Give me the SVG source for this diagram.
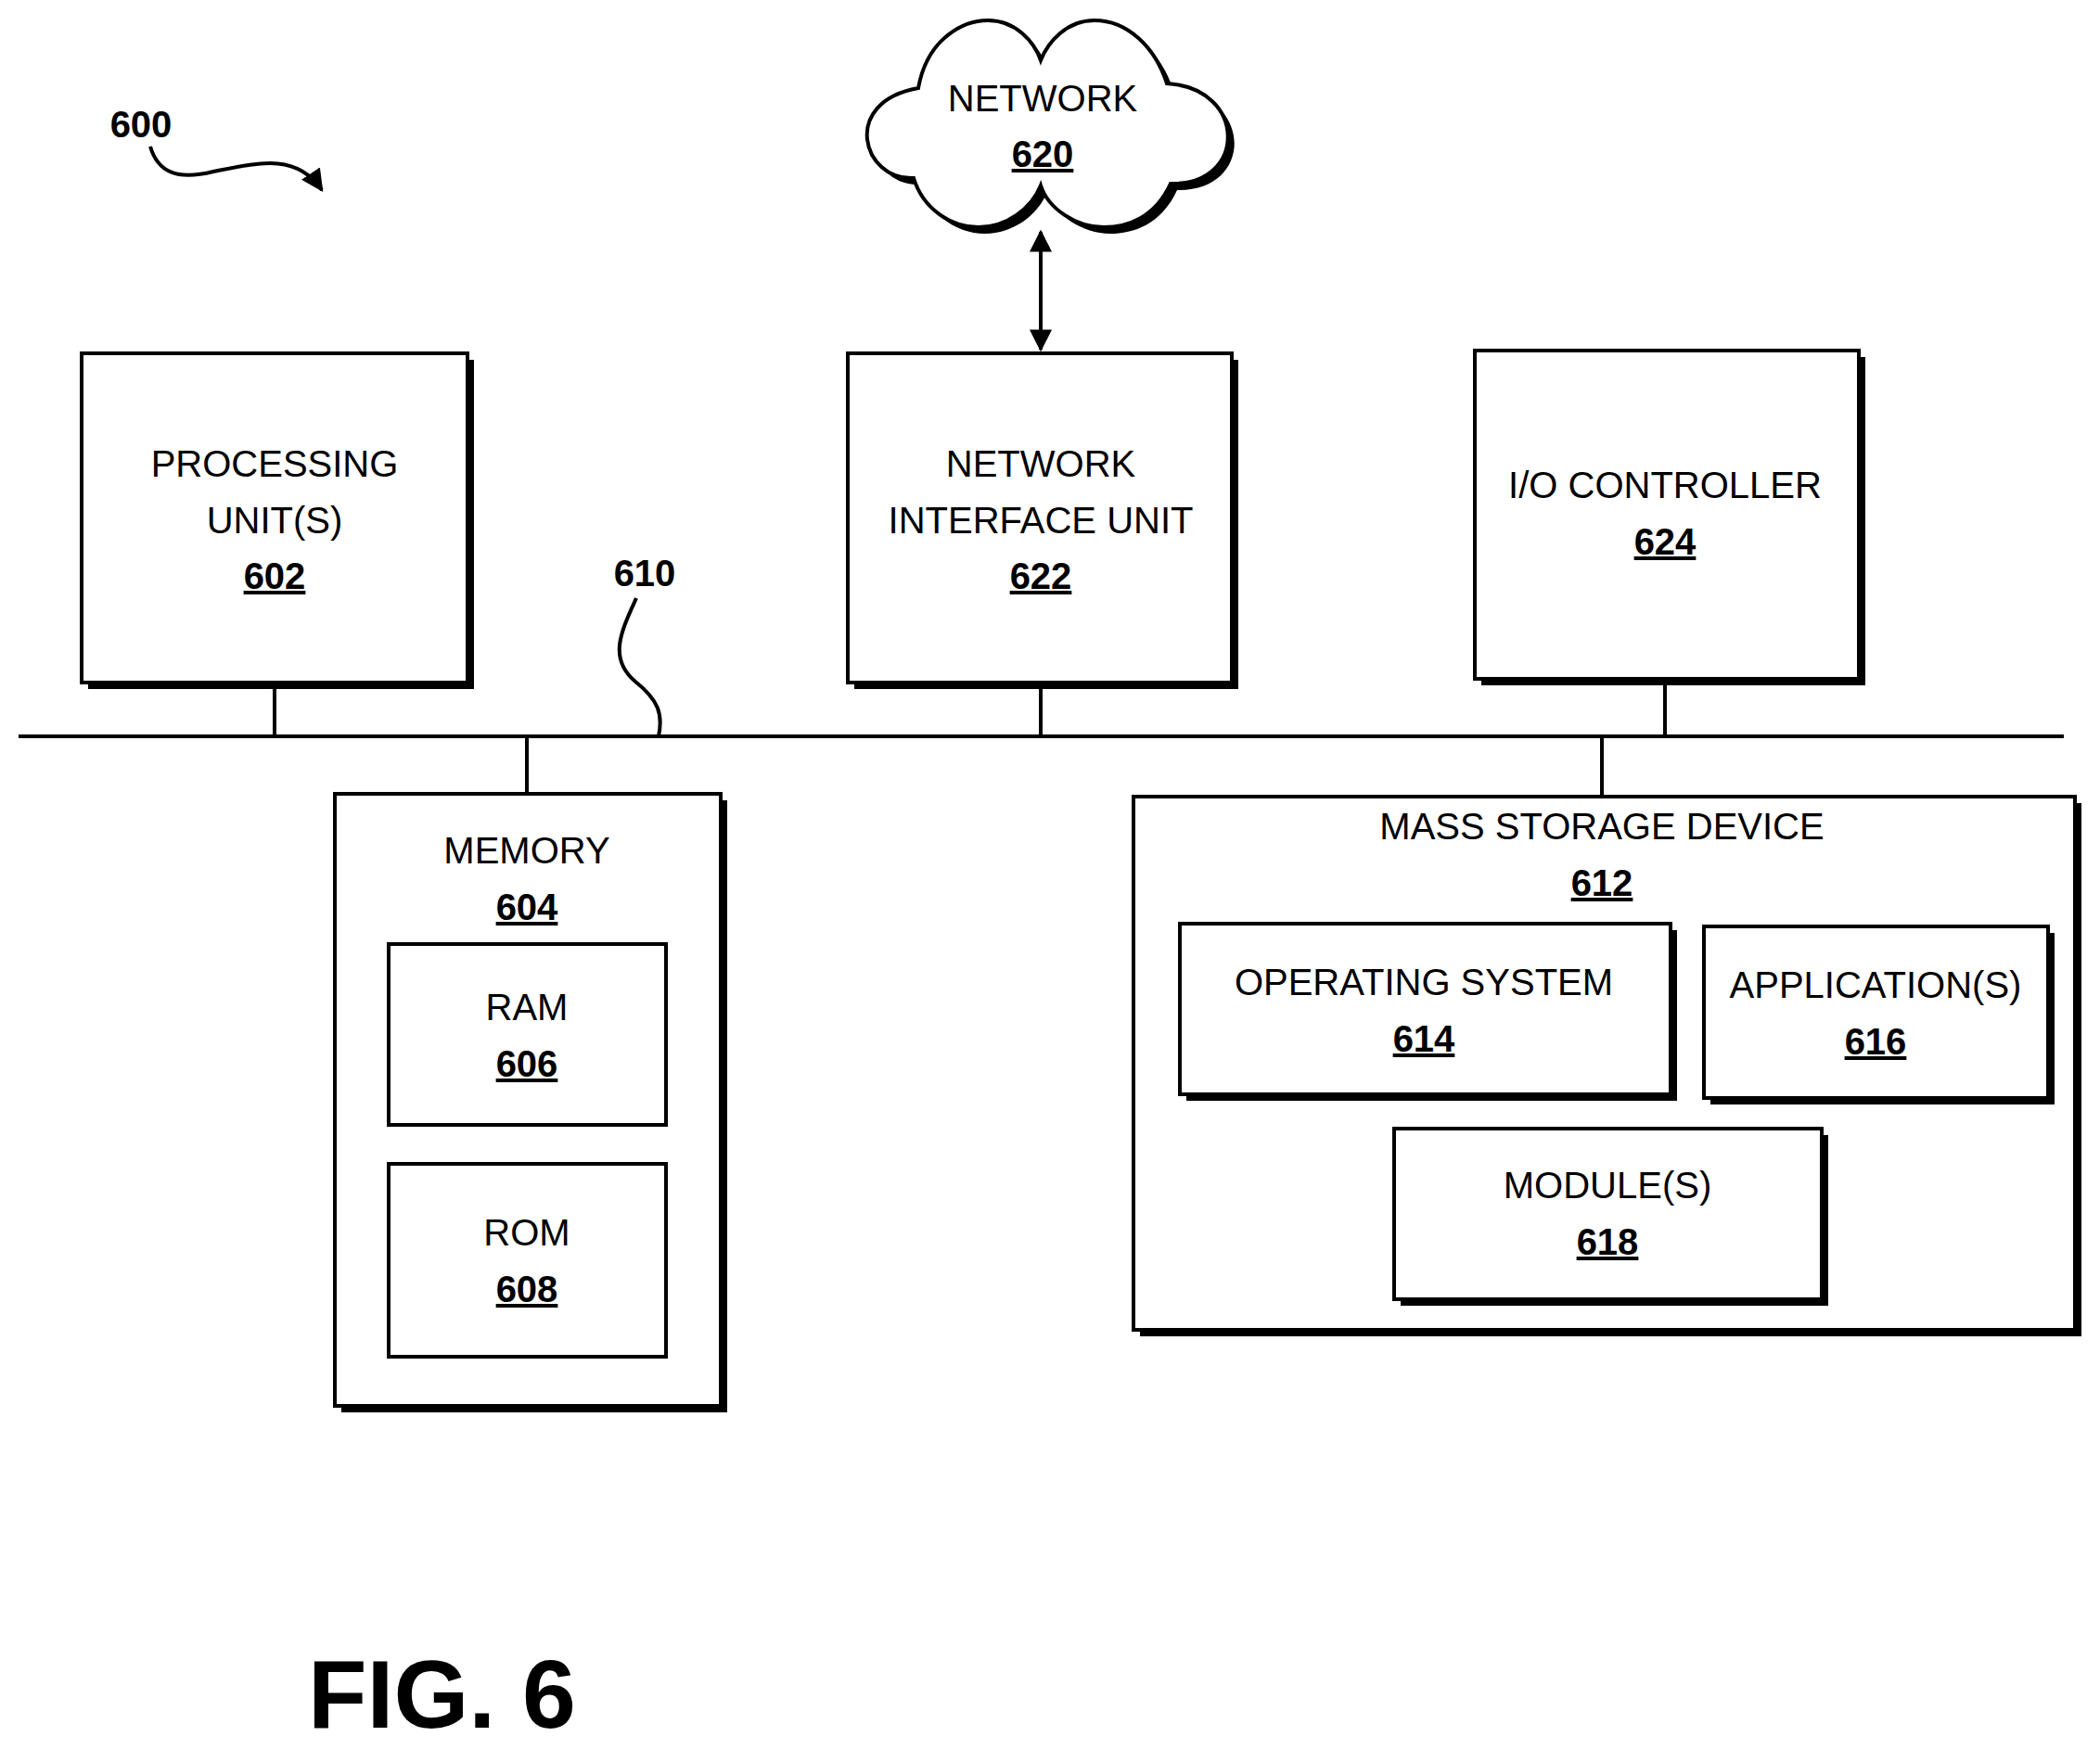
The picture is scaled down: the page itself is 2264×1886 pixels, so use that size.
<svg xmlns="http://www.w3.org/2000/svg" width="2264" height="1886" viewBox="0 0 2264 1886">
<style>
.box{fill:#fff;stroke:#000;stroke-width:4}
.sh{fill:#000}
.t{font-family:"Liberation Sans",sans-serif;font-size:40px;text-anchor:middle;fill:#000}
.n{font-family:"Liberation Sans",sans-serif;font-size:40px;font-weight:bold;text-anchor:middle;text-decoration:underline;fill:#000}
.ln{fill:none;stroke:#000;stroke-width:4}
</style>
<defs>
<marker id="ah" viewBox="0 0 10 10" refX="9" refY="5" markerWidth="6" markerHeight="6" orient="auto-start-reverse"><path d="M0,0 L10,5 L0,10 z" fill="#000"/></marker>
<path id="cloud" d="M985,192 C930,195 905,110 990,95 C1000,40 1040,22 1065,22 C1095,22 1115,45 1122,65 C1130,45 1150,22 1180,22 C1215,22 1245,50 1258,90 C1345,95 1345,200 1262,198 C1245,235 1215,245 1190,245 C1160,245 1130,225 1122,200 C1112,225 1085,245 1055,245 C1025,245 995,225 985,192 Z"/>
</defs>
<g id="label600">
<text x="152" y="148" font-family="Liberation Sans,sans-serif" font-size="40" font-weight="bold" text-anchor="middle">600</text>
<path class="ln" d="M162,158 C170,185 190,195 230,185 C280,175 320,165 347,205" marker-end="url(#ah)"/>
</g>
<g id="connectors">
<line class="ln" x1="20" y1="794" x2="2225" y2="794"/>
<line class="ln" x1="296" y1="736" x2="296" y2="794"/>
<line class="ln" x1="1122" y1="736" x2="1122" y2="794"/>
<line class="ln" x1="1795" y1="732" x2="1795" y2="794"/>
<line class="ln" x1="568" y1="794" x2="568" y2="856"/>
<line class="ln" x1="1727" y1="794" x2="1727" y2="859"/>
<line class="ln" x1="1122" y1="250" x2="1122" y2="377" marker-start="url(#ah)" marker-end="url(#ah)"/>
<path class="ln" d="M686,645 C670,680 655,710 685,735 C710,755 715,770 710,794"/>
</g>
<text x="695" y="632" font-family="Liberation Sans,sans-serif" font-size="40" font-weight="bold" text-anchor="middle">610</text>
<g id="network620">
<use href="#cloud" transform="translate(7,7)" class="sh"/>
<use href="#cloud" class="box"/>
<text class="t" x="1124" y="120">NETWORK</text>
<text class="n" x="1124" y="180">620</text>
</g>
<g id="proc602">
<rect class="sh" x="95" y="388" width="416" height="355"/>
<rect class="box" x="88" y="381" width="416" height="355"/>
<text class="t" x="296" y="514">PROCESSING</text>
<text class="t" x="296" y="575">UNIT(S)</text>
<text class="n" x="296" y="635">602</text>
</g>
<g id="niu622">
<rect class="sh" x="921" y="388" width="414" height="355"/>
<rect class="box" x="914" y="381" width="414" height="355"/>
<text class="t" x="1122" y="514">NETWORK</text>
<text class="t" x="1122" y="575">INTERFACE UNIT</text>
<text class="n" x="1122" y="635">622</text>
</g>
<g id="io624">
<rect class="sh" x="1597" y="385" width="414" height="354"/>
<rect class="box" x="1590" y="378" width="414" height="354"/>
<text class="t" x="1795" y="537">I/O CONTROLLER</text>
<text class="n" x="1795" y="598">624</text>
</g>
<g id="memory604">
<rect class="sh" x="368" y="863" width="416" height="660"/>
<rect class="box" x="361" y="856" width="416" height="660"/>
<text class="t" x="568" y="931">MEMORY</text>
<text class="n" x="568" y="992">604</text>
</g>
<g id="ram606">
<rect class="box" x="419" y="1018" width="299" height="195"/>
<text class="t" x="568" y="1100">RAM</text>
<text class="n" x="568" y="1161">606</text>
</g>
<g id="rom608">
<rect class="box" x="419" y="1255" width="299" height="208"/>
<text class="t" x="568" y="1343">ROM</text>
<text class="n" x="568" y="1404">608</text>
</g>
<g id="msd612">
<rect class="sh" x="1229" y="866" width="1015" height="575"/>
<rect class="box" x="1222" y="859" width="1015" height="575"/>
<text class="t" x="1727" y="905">MASS STORAGE DEVICE</text>
<text class="n" x="1727" y="966">612</text>
</g>
<g id="os614">
<rect class="sh" x="1279" y="1003" width="529" height="184"/>
<rect class="box" x="1272" y="996" width="529" height="184"/>
<text class="t" x="1535" y="1073">OPERATING SYSTEM</text>
<text class="n" x="1535" y="1134">614</text>
</g>
<g id="app616">
<rect class="sh" x="1844" y="1006" width="371" height="185"/>
<rect class="box" x="1837" y="999" width="371" height="185"/>
<text class="t" x="2022" y="1076">APPLICATION(S)</text>
<text class="n" x="2022" y="1137">616</text>
</g>
<g id="mod618">
<rect class="sh" x="1510" y="1224" width="461" height="184"/>
<rect class="box" x="1503" y="1217" width="461" height="184"/>
<text class="t" x="1733" y="1292">MODULE(S)</text>
<text class="n" x="1733" y="1353">618</text>
</g>
<text x="332" y="1863" font-family="Liberation Sans,sans-serif" font-size="104" font-weight="bold">FIG. 6</text>
</svg>
